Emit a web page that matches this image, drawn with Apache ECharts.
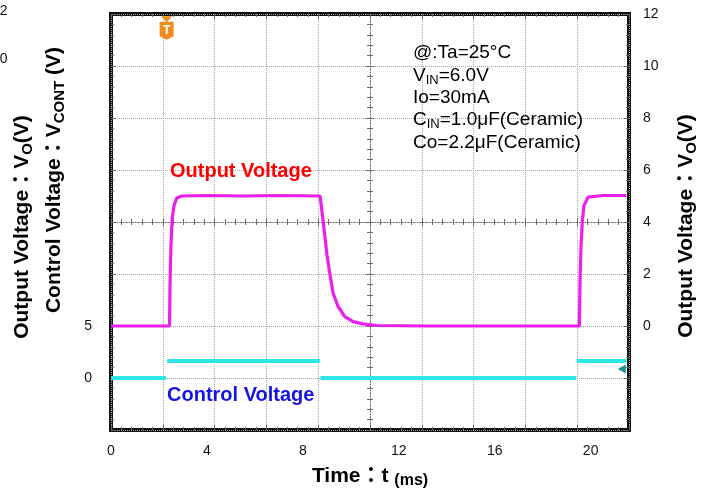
<!DOCTYPE html>
<html><head><meta charset="utf-8">
<script src="https://cdn.jsdelivr.net/npm/echarts@6/dist/echarts.min.js"></script>
<style>html,body{margin:0;padding:0;background:#fff}#c{width:711px;height:490px}</style>
</head><body><div id="c"></div>
<script>
// ---- data ----
const timeTicks = [0, 4, 8, 12, 16, 20];
const rightTicks = [0, 2, 4, 6, 8, 10, 12];
const leftTicks = [0, 5];
// Output voltage trace (ms, V) – right axis
const outTime = [0, 2.44, 2.46, 2.50, 2.55, 2.63, 2.74, 2.95, 4.0, 5.5, 7.0, 8.72, 8.85, 9.01, 9.13, 9.26, 9.47, 9.75, 10.10, 10.5, 11.07, 13, 15, 17, 19.53, 19.56, 19.60, 19.65, 19.72, 19.90, 20.5, 21.49];
const outVolt = [0, 0, 1.53, 3.08, 4.12, 4.63, 4.92, 5.00, 5.02, 5.00, 5.02, 5.00, 4.00, 2.70, 1.98, 1.27, 0.75, 0.36, 0.17, 0.08, 0.02, 0, 0, 0, 0, 1.79, 3.08, 4.00, 4.63, 4.96, 5.02, 5.02];
// Control voltage trace (ms, V) – left axis; null = gap (scope draws no vertical edge)
const ctlTime = [0, 2.30, 2.32, 2.34, 8.71, 8.71, 8.73, 19.40, 19.40, 19.42, 21.49];
const ctlVolt = [0, 0, null, 1.63, 1.63, null, 0, 0, null, 1.63, 1.63];
const notes = ['@:Ta=25°C', 'V{s|IN}=6.0V', 'Io=30mA', 'C{s|IN}=1.0μF(Ceramic)', 'Co=2.2μF(Ceramic)'];
const triggerTime = 2.32;
const ctlMarker = [21.3, 0.87];

// ---- chart ----
const FF = "'Liberation Sans', Arial, 'Noto Sans CJK JP', sans-serif";
const gridColor = '#a4a4a4';
const tickColor = '#6a6a6a';
const nameStyle = (pad) => ({
  fontSize: 21, fontWeight: 'bold', color: '#000', fontFamily: FF, lineHeight: 26, padding: pad,
  rich: {
    s: { fontSize: 15, fontWeight: 'bold', color: '#000', fontFamily: FF, lineHeight: 20, verticalAlign: 'bottom' },
    m: { fontSize: 16, fontWeight: 'bold', color: '#000', fontFamily: FF, lineHeight: 24, verticalAlign: 'bottom' }
  }
});
const labelStyle = { fontSize: 14, color: '#111', fontFamily: FF };

function centerAxis(inside, showLine, isX) {
  return {
    type: 'value', min: isX ? -5 : -4, max: isX ? 5 : 4, interval: 1,
    axisLine: { show: showLine, onZero: true, onZeroAxisIndex: isX ? 2 : 1,
      lineStyle: { color: tickColor, width: 1, type: [1, 2] } },
    axisTick: { show: true, inside: inside, length: 4, lineStyle: { color: tickColor } },
    minorTick: { show: true, splitNumber: 5, length: 3, lineStyle: { color: tickColor } },
    axisLabel: { show: false }, splitLine: { show: false },
    silent: true
  };
}
function borderAxis(pos, isX) {
  return {
    type: 'value', min: 0, max: isX ? 10 : 8, interval: 1, position: pos,
    axisLine: { show: false, onZero: false },
    axisTick: { show: true, inside: true, length: 5, lineStyle: { color: tickColor } },
    minorTick: { show: true, splitNumber: 5, length: 3, lineStyle: { color: tickColor } },
    axisLabel: { show: false }, splitLine: { show: false },
    silent: true
  };
}
function gridAxis(isX) {
  return {
    type: 'value', min: 0, max: isX ? 10 : 8, interval: 1, position: isX ? 'bottom' : 'left',
    axisLine: { show: false, onZero: false }, axisTick: { show: false }, axisLabel: { show: false },
    splitLine: { show: true, lineStyle: { color: gridColor, width: 1, type: 'dotted' } }
  };
}

const chart = echarts.init(document.getElementById('c'), null, { renderer: 'canvas' });
const leftBorder = borderAxis('left', false);
leftBorder.name = 'Output Voltage：V{s|O}(V)';
leftBorder.nameLocation = 'middle';
leftBorder.nameRotate = 90;
leftBorder.nameGap = 76;
leftBorder.nameTextStyle = nameStyle([0, 10, 0, 0]);

chart.setOption({
  animation: false,
  backgroundColor: '#fff',
  grid: { left: 111, right: 82, top: 14, bottom: 60, show: true, borderColor: '#111', borderWidth: 4,
          backgroundColor: 'transparent', containLabel: false, outerBoundsMode: 'none' },
  xAxis: [
    { type: 'value', min: 0, max: 21.6, interval: 4, position: 'bottom',
      axisLine: { show: false, onZero: false }, axisTick: { show: false }, splitLine: { show: false },
      axisLabel: Object.assign({ margin: 14, formatter: v => timeTicks.includes(v) ? String(v) : '' }, labelStyle),
      name: 'Time：t {m|(ms)}', nameLocation: 'middle', nameGap: 31, nameTextStyle: nameStyle([0, 0, 0, 0]) },
    centerAxis(false, true, true),
    centerAxis(true, false, true),
    borderAxis('bottom', true),
    borderAxis('top', true),
    gridAxis(true)
  ],
  yAxis: [
    { type: 'value', min: -5, max: 35, interval: 5, position: 'left',
      axisLine: { show: false, onZero: false }, axisTick: { show: false }, splitLine: { show: false },
      axisLabel: Object.assign({ margin: 19, formatter: v => leftTicks.includes(v) ? String(v) : '' }, labelStyle),
      name: 'Control Voltage：V{s|CONT} (V)', nameLocation: 'middle', nameRotate: 90, nameGap: 44,
      nameTextStyle: nameStyle([0, 0, 0, 84]) },
    { type: 'value', min: -4, max: 12, interval: 2, position: 'right',
      axisLine: { show: false, onZero: false }, axisTick: { show: false }, splitLine: { show: false },
      axisLabel: Object.assign({ margin: 14, formatter: v => rightTicks.includes(v) ? String(v) : '' }, labelStyle),
      name: 'Output Voltage：V{s|O}(V)', nameLocation: 'middle', nameRotate: 90, nameGap: 44,
      nameTextStyle: nameStyle([0, 8, 0, 0]) },
    centerAxis(false, true, false),
    centerAxis(true, false, false),
    leftBorder,
    borderAxis('right', false),
    gridAxis(false)
  ],
  graphic: [
    { type: 'text', left: 413, top: 42, z: 10,
      style: { text: notes.join('\n'), fontSize: 19, fontFamily: FF, fill: '#000', lineHeight: 22.3,
        rich: { s: { fontSize: 13, fontFamily: FF, fill: '#000', lineHeight: 16, verticalAlign: 'bottom' } } } },
    { type: 'text', left: 170, top: 161, z: 10,
      style: { text: 'Output Voltage', fontSize: 20, fontWeight: 'bold', fontFamily: FF, fill: '#ff0000' } },
    { type: 'text', left: 167, top: 385, z: 10,
      style: { text: 'Control Voltage', fontSize: 20, fontWeight: 'bold', fontFamily: FF, fill: '#1414e6' } },
    { type: 'text', left: -8, top: 4, style: { text: '12', fontSize: 14, fontFamily: FF, fill: '#111' } },
    { type: 'text', left: -8, top: 52, style: { text: '10', fontSize: 14, fontFamily: FF, fill: '#111' } }
  ],
  series: [
    { name: 'Output Voltage', type: 'line', xAxisIndex: 0, yAxisIndex: 1, showSymbol: false, z: 4,
      data: outTime.map((t, i) => [t, outVolt[i]]),
      lineStyle: { color: '#ec1eec', width: 3.2 }, itemStyle: { color: '#ec1eec' } },
    { name: 'Control Voltage', type: 'line', xAxisIndex: 0, yAxisIndex: 0, showSymbol: false, z: 3,
      connectNulls: false,
      data: ctlTime.map((t, i) => [t, ctlVolt[i] === null ? '-' : ctlVolt[i]]),
      lineStyle: { color: '#2ee6e6', width: 4 }, itemStyle: { color: '#2ee6e6' },
      markPoint: { animation: false, silent: true,
        data: [
          { coord: [triggerTime, 34.5], symbol: 'triangle', symbolSize: [11, 6], symbolRotate: 180,
            itemStyle: { color: '#f08c1e' }, label: { show: false } },
          { coord: [triggerTime, 33.4], symbol: 'path://M0,0 L12,0 L12,13 L6,16 L0,13 Z', symbolSize: [14, 18],
            itemStyle: { color: '#f08c1e' },
            label: { show: true, position: 'inside', formatter: 'T', color: '#fff', fontWeight: 'bold', fontSize: 12, fontFamily: FF } },
          { coord: ctlMarker, symbol: 'triangle', symbolSize: [9, 8], symbolRotate: 90,
            itemStyle: { color: '#1b9696' }, label: { show: false } }
        ] } }
  ]
});
</script></body></html>
